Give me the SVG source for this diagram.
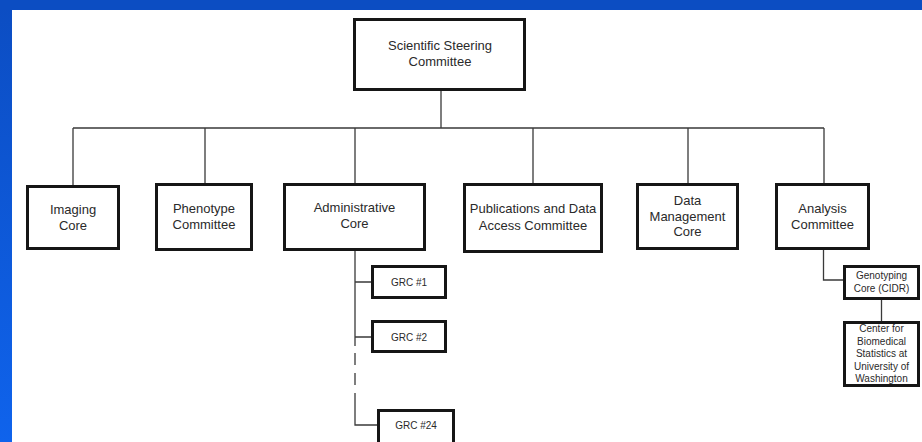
<svg xmlns="http://www.w3.org/2000/svg" width="922" height="442" viewBox="0 0 922 442">
<defs>
<linearGradient id="bg" x1="0" y1="0" x2="0" y2="1">
<stop offset="0" stop-color="#0c4dc2"/>
<stop offset="1" stop-color="#0f63ec"/>
</linearGradient>
</defs>
<style>
.box{fill:#fff;stroke:#161616;stroke-width:3}
.ln{fill:none;stroke:#3a3a3a;stroke-width:1.3}
.t{font-family:"Liberation Sans",Arial,sans-serif;font-size:13px;fill:#2a2a2a;text-anchor:middle}
.s{font-family:"Liberation Sans",Arial,sans-serif;font-size:10px;fill:#2a2a2a;text-anchor:middle}
</style>
<rect x="0" y="0" width="922" height="442" fill="url(#bg)"/>
<rect x="0" y="0" width="922" height="10" fill="#0c4dc2"/>
<rect x="12" y="10" width="910" height="432" fill="#fff"/>
<g id="connectors">
<path class="ln" d="M441 91V128M73 128H824M73 128V185M205 128V183M355 128V183M533 128V183M688 128V183M824 128V183"/>
<path class="ln" d="M355 251V346M355 282H371M355 337H371M355 353V365M355 373V385M355 393V425H377"/>
<path class="ln" d="M823.5 250V280H843M881.5 300V321"/>
</g>
<g id="steering"><rect class="box" x="354.5" y="19.5" width="170" height="70"/>
<text class="t" x="440" y="50" font-size="13.3">Scientific Steering</text><text class="t" x="440" y="65.5" font-size="13.3">Committee</text></g>
<g id="imaging"><rect class="box" x="27.5" y="186.5" width="91" height="62"/>
<text class="t" x="73" y="214">Imaging</text><text class="t" x="73" y="230">Core</text></g>
<g id="phenotype"><rect class="box" x="156.5" y="184.5" width="95" height="65"/>
<text class="t" x="204" y="213">Phenotype</text><text class="t" x="204" y="229">Committee</text></g>
<g id="admin"><rect class="box" x="284.5" y="184.5" width="140" height="65"/>
<text class="t" x="354.5" y="211.5">Administrative</text><text class="t" x="354.5" y="228">Core</text></g>
<g id="publications"><rect class="box" x="464.5" y="184.5" width="137" height="67"/>
<text class="t" x="533" y="213">Publications and Data</text><text class="t" x="533" y="230">Access Committee</text></g>
<g id="datamgmt"><rect class="box" x="637.5" y="184.5" width="100" height="64"/>
<text class="t" x="687.5" y="205">Data</text><text class="t" x="687.5" y="220.5">Management</text><text class="t" x="687.5" y="236">Core</text></g>
<g id="analysis"><rect class="box" x="776.5" y="184.5" width="92" height="64"/>
<text class="t" x="822.5" y="213">Analysis</text><text class="t" x="822.5" y="229">Committee</text></g>
<g id="grc1"><rect class="box" x="372.5" y="266.5" width="73" height="31"/>
<text class="s" x="409" y="286">GRC #1</text></g>
<g id="grc2"><rect class="box" x="372.5" y="321.5" width="73" height="30"/>
<text class="s" x="409" y="340.5">GRC #2</text></g>
<g id="grc24"><rect class="box" x="378.5" y="410.5" width="75" height="36"/>
<text class="s" x="416" y="428.5">GRC #24</text></g>
<g id="genotyping"><rect class="box" x="844.5" y="266.5" width="74" height="32"/>
<text class="s" x="881.5" y="278.5">Genotyping</text><text class="s" x="881.5" y="291.5">Core (CIDR)</text></g>
<g id="biostat"><rect class="box" x="844.5" y="322.5" width="74" height="63"/>
<text class="s" x="881.5" y="332">Center for</text><text class="s" x="881.5" y="344.5">Biomedical</text><text class="s" x="881.5" y="357">Statistics at</text><text class="s" x="881.5" y="369.5">University of</text><text class="s" x="881.5" y="382">Washington</text></g>
</svg>
